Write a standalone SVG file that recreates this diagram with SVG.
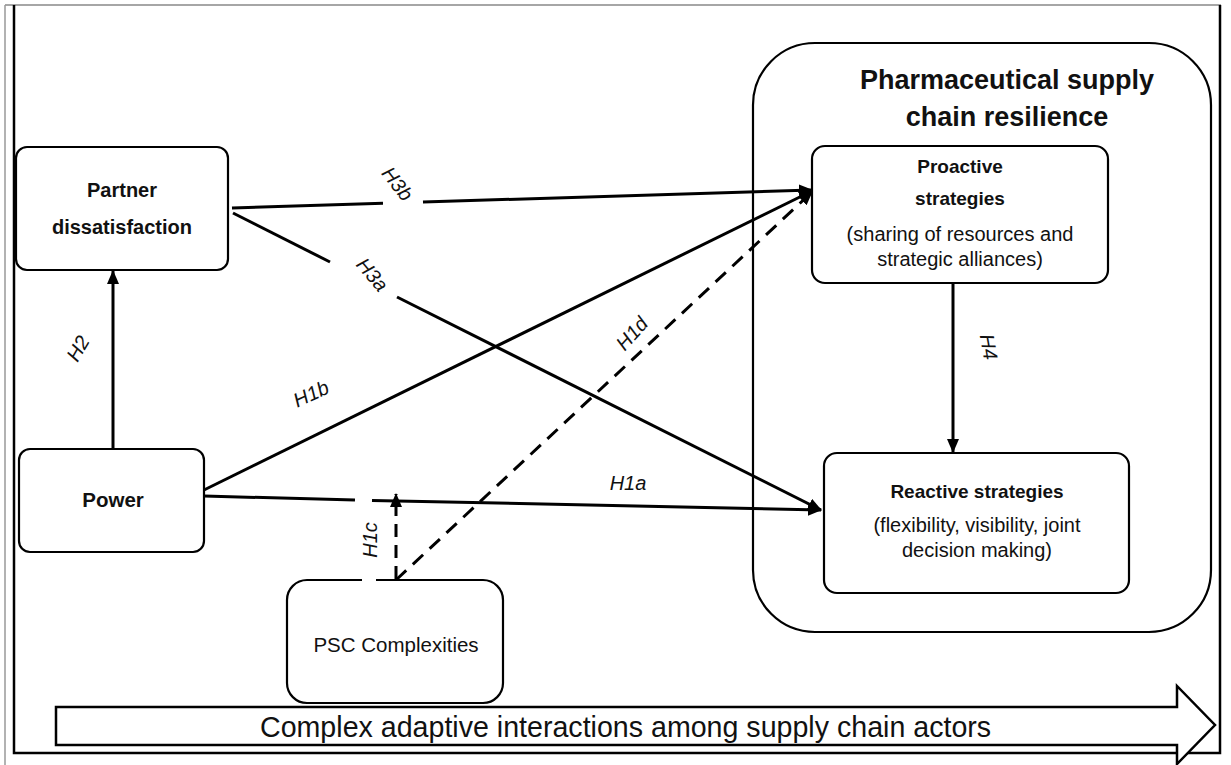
<svg xmlns="http://www.w3.org/2000/svg" width="1231" height="765" viewBox="0 0 1231 765">
<defs>
<style>
.box{fill:#fff;stroke:#000;stroke-width:2.2}
.edge{fill:none;stroke:#000;stroke-width:3}
.dash{fill:none;stroke:#000;stroke-width:3;stroke-dasharray:14 9}
.b{font-family:"Liberation Sans",Arial,sans-serif;font-weight:bold;fill:#111;text-anchor:middle}
.r{font-family:"Liberation Sans",Arial,sans-serif;fill:#111;text-anchor:middle}
.h{font-family:"Liberation Sans",Arial,sans-serif;font-style:italic;font-size:20px;fill:#111;text-anchor:middle}
</style>
<marker id="ah" markerUnits="userSpaceOnUse" markerWidth="14" markerHeight="12" refX="13" refY="6" orient="auto">
<path d="M0,0 L14,6 L0,12 z" fill="#000"/>
</marker>
</defs>
<rect width="1231" height="765" fill="#fff"/>
<g id="frame">
<line x1="5" y1="5" x2="1221" y2="5" stroke="#888" stroke-width="1.5"/>
<line x1="5" y1="5" x2="5" y2="765" stroke="#999" stroke-width="1.5"/>
<path d="M14,5 V753 H1220 V5" fill="none" stroke="#000" stroke-width="2.5"/>
</g>
<g id="resilience">
<rect x="753" y="43" width="458" height="589" rx="62" ry="62" fill="none" stroke="#000" stroke-width="2.2"/>
<text class="b" x="1007" y="89" font-size="27">Pharmaceutical supply</text>
<text class="b" x="1007" y="126" font-size="27">chain resilience</text>
</g>
<g id="partner">
<rect class="box" x="16" y="147" width="212" height="123" rx="11"/>
<text class="b" x="122" y="197" font-size="20">Partner</text>
<text class="b" x="122" y="234" font-size="20">dissatisfaction</text>
</g>
<g id="power">
<rect class="box" x="19" y="449" width="185" height="103" rx="11"/>
<text class="b" x="113" y="507" font-size="20.5">Power</text>
</g>
<g id="psc">
<path class="box" d="M376,580 H483 A20,20 0 0 1 503,600 V683 A20,20 0 0 1 483,703 H307 A20,20 0 0 1 287,683 V600 A20,20 0 0 1 307,580 H362"/>
<text class="r" x="396" y="652" font-size="20.5">PSC Complexities</text>
</g>
<g id="proactive">
<rect class="box" x="812" y="146" width="296" height="137" rx="13"/>
<text class="b" x="960" y="173" font-size="19">Proactive</text>
<text class="b" x="960" y="205" font-size="19">strategies</text>
<text class="r" x="960" y="241" font-size="20">(sharing of resources and</text>
<text class="r" x="960" y="266" font-size="20">strategic alliances)</text>
</g>
<g id="reactive">
<rect class="box" x="824" y="453" width="305" height="140" rx="13"/>
<text class="b" x="977" y="498" font-size="19">Reactive strategies</text>
<text class="r" x="977" y="532" font-size="20">(flexibility, visibility, joint</text>
<text class="r" x="977" y="557" font-size="20">decision making)</text>
</g>
<g id="bottom-arrow">
<path d="M56,707 H1177 V686 L1215,725 L1177,764 V745 H56 Z" fill="#fff" stroke="#000" stroke-width="2.5"/>
<text class="r" x="260" y="737" font-size="28.6" style="text-anchor:start">Complex adaptive interactions among supply chain actors</text>
</g>
<g id="connectors">
<line class="edge" x1="113" y1="449" x2="113" y2="271" marker-end="url(#ah)"/>
<line class="edge" x1="232" y1="208" x2="383" y2="203.3"/>
<line class="edge" x1="423" y1="202" x2="812" y2="190" marker-end="url(#ah)"/>
<line class="edge" x1="233" y1="213" x2="330" y2="262"/>
<line class="edge" x1="397" y1="297" x2="821" y2="510" marker-end="url(#ah)"/>
<line class="edge" x1="204" y1="490" x2="812" y2="191" marker-end="url(#ah)"/>
<line class="edge" x1="204" y1="496" x2="355" y2="500"/>
<line class="edge" x1="372" y1="500.4" x2="821" y2="510" marker-end="url(#ah)"/>
<line class="dash" x1="396" y1="579" x2="396" y2="494" style="stroke-dasharray:13 8" marker-end="url(#ah)"/>
<line class="dash" x1="396" y1="580" x2="812" y2="192" marker-end="url(#ah)"/>
<line class="edge" x1="953" y1="283" x2="953" y2="452" marker-end="url(#ah)"/>
</g>
<g id="labels">
<text class="h" transform="translate(84,352) rotate(-60)">H2</text>
<text class="h" transform="translate(392,188) rotate(52)">H3b</text>
<text class="h" transform="translate(367,279) rotate(50)">H3a</text>
<text class="h" transform="translate(314,400) rotate(-25)">H1b</text>
<text class="h" transform="translate(637,338) rotate(-48)">H1d</text>
<text class="h" x="628" y="490">H1a</text>
<text class="h" transform="translate(377,540) rotate(-90)">H1c</text>
<text class="h" transform="translate(982,348) rotate(80)">H4</text>
</g>
</svg>
